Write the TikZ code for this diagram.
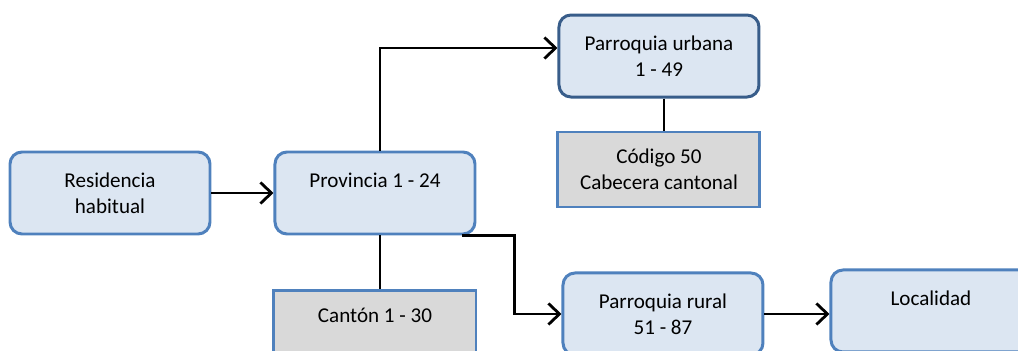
\documentclass[tikz,border=0pt]{standalone}
\usepackage{fontspec}
\setmainfont{Carlito}
\usetikzlibrary{positioning, arrows.meta}
\definecolor{boxfill}{RGB}{220,230,242}
\definecolor{boxline}{RGB}{79,129,189}
\definecolor{darkline}{RGB}{56,93,138}
\definecolor{grayfill}{RGB}{217,217,217}

\begin{document}
\begin{tikzpicture}[
     node distance = 3mm and 3mm,
       font = \fontsize{12}{14.7}\selectfont,
        box/.style = {rectangle, rounded corners=2.4mm, draw=boxline, line width=1.7pt,
                      fill=boxfill, align=center, minimum width=4cm, minimum height=1.64cm},
       gbox/.style = {rectangle, draw=boxline, line width=1.7pt, fill=grayfill,
                      align=center, minimum width=4.04cm, minimum height=1.5cm},
        arr/.style = {-{Straight Barb[length=2.2mm,width=4.2mm]}, line width=1.6pt},
       line/.style = {line width=1.6pt}
                        ]
\useasboundingbox (0,0) rectangle (20.36,-7.02);
\node (res)  [box] at (2.2,-3.86) {Residencia\\ habitual};
\node (prov) [box, right =1.24cm of res] {Provincia 1 - 24\\ \mbox{}};
\node (urb)  [box, draw=darkline, above right =1.04cm and 1.62cm of prov] {Parroquia urbana\\ 1 - 49};
\node (cab)  [gbox, below =0.64cm of urb] {Código 50\\ Cabecera cantonal};
\node (can)  [gbox, below =1.08cm of prov] {Cantón 1 - 30\\ \mbox{}};
\node (rur)  [box, below right =0.72cm and 1.7cm of prov] {Parroquia rural\\ 51 - 87};
\node (loc)  [box, right =1.3cm of rur, yshift=0.06cm] {Localidad\\ \mbox{}};
% connectors
\coordinate (bend) at ([xshift=0.76cm]prov.south east);
\draw[arr] (res.east) -- (res.east -| prov.west);
\draw[arr] ([xshift=0.1cm]prov.north) |- ([yshift=0.16cm]urb.west);
\draw[line] ([xshift=0.1cm]urb.south) -- ([xshift=0.1cm]urb.south |- cab.north);
\draw[line] ([xshift=0.1cm]prov.south) -- ([xshift=0.1cm]prov.south |- can.north);
\draw[arr] ([xshift=-0.28cm]prov.south east) -- (bend) |- (rur.west);
\draw[arr] (rur.east) -- (rur.east -| loc.west);
\end{tikzpicture}
\end{document}
